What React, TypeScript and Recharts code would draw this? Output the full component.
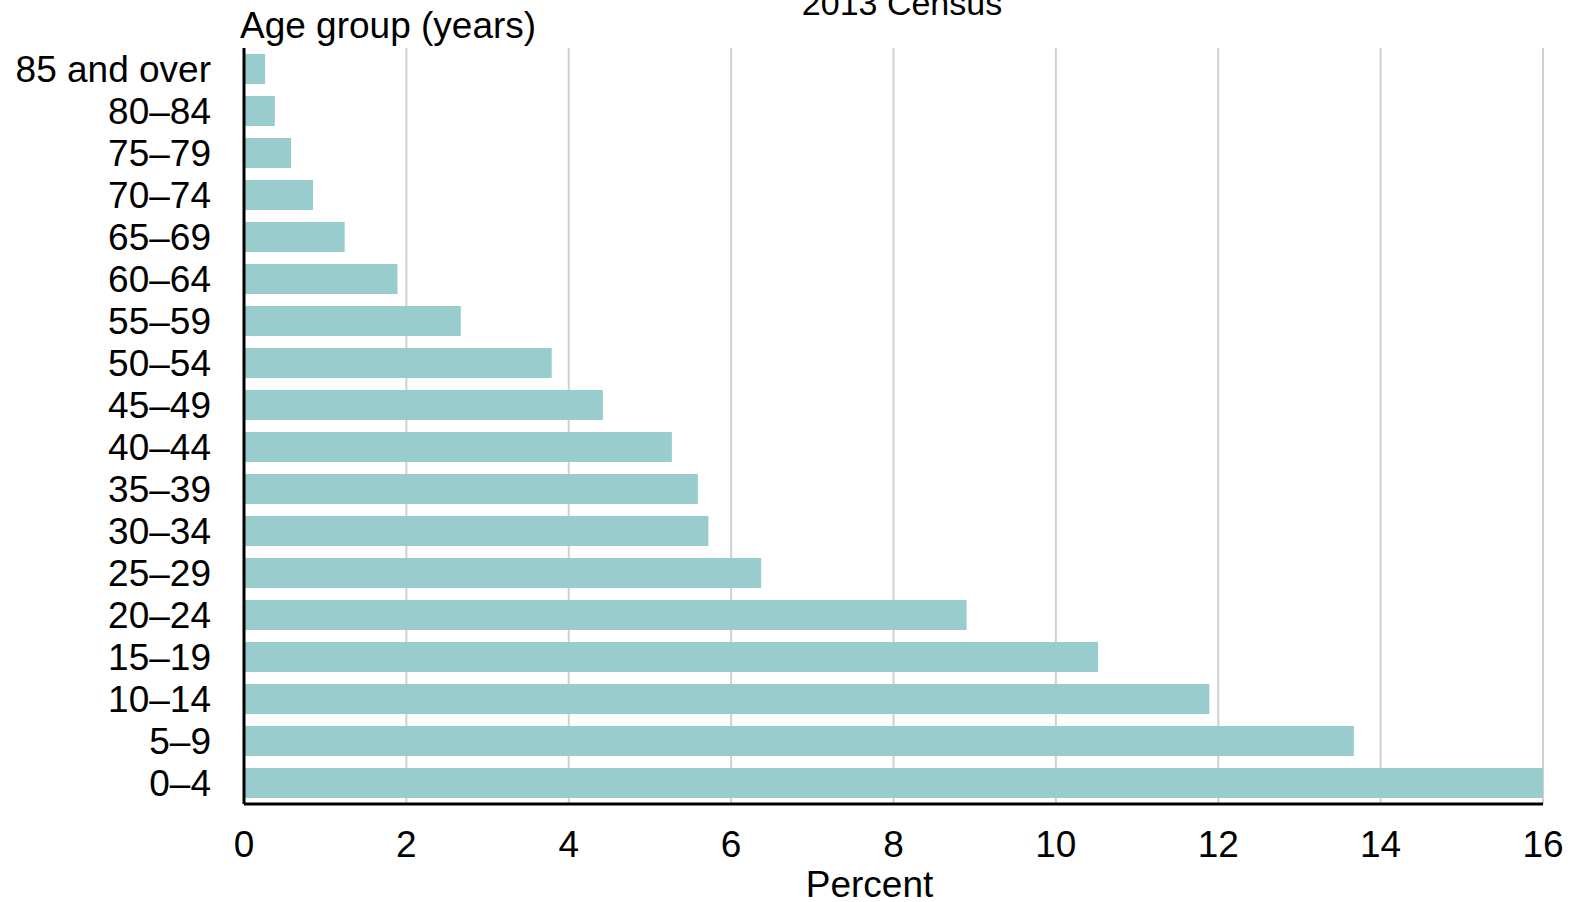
import { Bar, BarChart, CartesianGrid, XAxis, YAxis } from "recharts"

const ageGroups = [
  "85 and over",
  "80–84",
  "75–79",
  "70–74",
  "65–69",
  "60–64",
  "55–59",
  "50–54",
  "45–49",
  "40–44",
  "35–39",
  "30–34",
  "25–29",
  "20–24",
  "15–19",
  "10–14",
  "5–9",
  "0–4",
]

const percent = [
  0.26, 0.38, 0.58, 0.85, 1.24, 1.89, 2.67, 3.79, 4.42, 5.27, 5.59, 5.72, 6.37, 8.9, 10.52,
  11.89, 13.67, 16.0,
]

const xTicks = [0, 2, 4, 6, 8, 10, 12, 14, 16]

const title = "2013 Census"
const yTitle = "Age group (years)"
const xTitle = "Percent"

const data = ageGroups.map((name, i) => ({ name, value: percent[i] }))

const font = "'Liberation Sans', Arial, sans-serif"

export default function App() {
  return (
    <div style={{ position: "absolute", left: 0, top: 0, width: 1571, height: 902 }}>
      <BarChart
        width={1571}
        height={902}
        data={data}
        layout="vertical"
        margin={{ top: 48, right: 28, bottom: 38, left: 0 }}
        style={{ fontFamily: font }}
      >
        <text x={902} y={15} textAnchor="middle" fontSize={34} fill="#000">
          {title}
        </text>
        <text x={240} y={38} textAnchor="start" fontSize={37} fill="#000">
          {yTitle}
        </text>
        <CartesianGrid horizontal={false} stroke="#d0d0d0" strokeWidth={2} />
        <XAxis
          type="number"
          domain={[0, 16]}
          ticks={xTicks}
          height={60}
          tickLine={false}
          tickSize={0}
          tickMargin={27}
          axisLine={{ stroke: "#000", strokeWidth: 3 }}
          tick={{ fill: "#000", fontSize: 37 }}
          label={{
            content: ({ viewBox }: any) => (
              <text
                x={viewBox.x + viewBox.width / 2 - 24}
                y={897}
                textAnchor="middle"
                fontSize={37}
                fill="#000"
              >
                {xTitle}
              </text>
            ),
          }}
        />
        <YAxis
          type="category"
          dataKey="name"
          width={244}
          tickLine={false}
          tickSize={0}
          tickMargin={33}
          interval={0}
          axisLine={{ stroke: "#000", strokeWidth: 3 }}
          tick={{ fill: "#000", fontSize: 37 }}
        />
        <Bar dataKey="value" fill="#99cccc" barSize={30} isAnimationActive={false} />
      </BarChart>
    </div>
  )
}
